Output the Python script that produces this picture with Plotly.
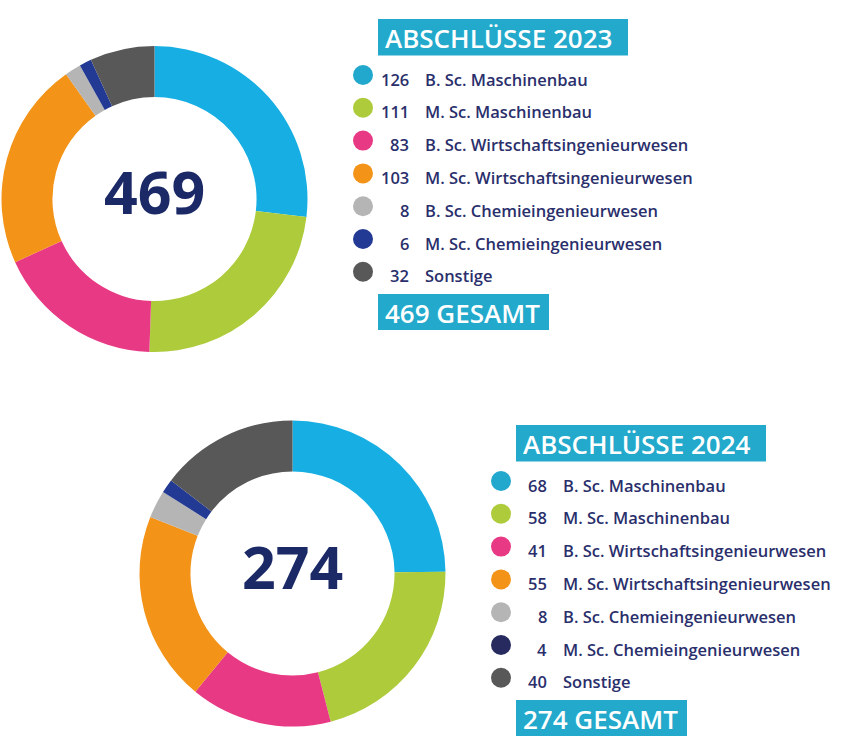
import plotly.graph_objects as go

# ---------------- data ----------------
categories = [
    "B. Sc. Maschinenbau",
    "M. Sc. Maschinenbau",
    "B. Sc. Wirtschaftsingenieurwesen",
    "M. Sc. Wirtschaftsingenieurwesen",
    "B. Sc. Chemieingenieurwesen",
    "M. Sc. Chemieingenieurwesen",
    "Sonstige",
]
values_2023 = [126, 111, 83, 103, 8, 6, 32]
values_2024 = [68, 58, 41, 55, 8, 4, 40]
years = ["2023", "2024"]

# ---------------- style ----------------
W, H = 854, 750
NAVY = "#1B2966"
TEXT = "#2A2F6C"
BOX = "#22A9CB"
ring_colors = ["#17AFE3", "#AECB3C", "#E83A84", "#F39317", "#B5B5B5", "#233A94", "#585858"]
legend_colors_2023 = ["#22A8CC", "#AECB3C", "#E83A84", "#F39317", "#B5B5B5", "#233A94", "#585858"]
legend_colors_2024 = ["#22A8CC", "#AECB3C", "#E83A84", "#F39317", "#B5B5B5", "#262A5E", "#585858"]
FONT = "Open Sans"

blocks = [
    dict(values=values_2023, year=years[0], cx=154.5, cy=199, r=153, dx=0, dy=0,
         lcolors=legend_colors_2023),
    dict(values=values_2024, year=years[1], cx=292.5, cy=573.5, r=153, dx=138, dy=406,
         lcolors=legend_colors_2024),
]

fig = go.Figure()
annotations = []
shapes = []

for b in blocks:
    total = sum(b["values"])
    x0 = max(0.0, (b["cx"] - b["r"]) / W)
    x1 = (b["cx"] + b["r"]) / W
    y0 = 1 - (b["cy"] + b["r"]) / H
    y1 = 1 - (b["cy"] - b["r"]) / H
    fig.add_trace(go.Pie(
        labels=categories, values=b["values"], hole=0.667, sort=False,
        direction="clockwise", rotation=0,
        marker=dict(colors=ring_colors, line=dict(width=0)),
        textinfo="none", hoverinfo="label+value", showlegend=False,
        domain=dict(x=[x0, x1], y=[y0, y1]),
    ))
    annotations.append(dict(
        x=b["cx"], y=b["cy"] - 8, xref="x", yref="y", text=f"<b>{total}</b>",
        showarrow=False, font=dict(family=FONT, size=59, color=NAVY),
        xanchor="center", yanchor="middle"))

    dx, dy = b["dx"], b["dy"]
    shapes.append(dict(type="rect", xref="x", yref="y", x0=378 + dx, x1=628 + dx,
                       y0=19 + dy, y1=55.5 + dy, fillcolor=BOX, line=dict(width=0), layer="below"))
    annotations.append(dict(
        x=383 + dx, y=38 + dy, xref="x", yref="y", text=f"ABSCHLÜSSE {b['year']}",
        showarrow=False, font=dict(family=FONT, size=26, color="white", weight=600),
        xanchor="left", yanchor="middle"))
    shapes.append(dict(type="rect", xref="x", yref="y", x0=378 + dx, x1=549 + dx,
                       y0=294 + dy, y1=330 + dy, fillcolor=BOX, line=dict(width=0), layer="below"))
    annotations.append(dict(
        x=383 + dx, y=313 + dy, xref="x", yref="y", text=f"{total} GESAMT",
        showarrow=False, font=dict(family=FONT, size=26, color="white", weight=600),
        xanchor="left", yanchor="middle"))

    row_y = [75 + dy + i * 32.8 for i in range(len(categories))]
    fig.add_trace(go.Scatter(
        x=[363 + dx] * len(categories), y=row_y, mode="markers",
        marker=dict(size=20, color=b["lcolors"], line=dict(width=0)),
        hoverinfo="skip", showlegend=False, xaxis="x", yaxis="y"))
    for i, (cat, v) in enumerate(zip(categories, b["values"])):
        annotations.append(dict(
            x=411 + dx, y=row_y[i] + 4, xref="x", yref="y", text=str(v),
            showarrow=False, font=dict(family=FONT, size=16.5, color=TEXT, weight=600),
            xanchor="right", yanchor="middle"))
        annotations.append(dict(
            x=423 + dx, y=row_y[i] + 4, xref="x", yref="y", text=cat,
            showarrow=False, font=dict(family=FONT, size=16.5, color=TEXT, weight=600),
            xanchor="left", yanchor="middle"))

fig.update_layout(
    width=W, height=H, margin=dict(l=0, r=0, t=0, b=0),
    paper_bgcolor="white", plot_bgcolor="rgba(0,0,0,0)",
    xaxis=dict(range=[0, W], visible=False, fixedrange=True, domain=[0, 1]),
    yaxis=dict(range=[H, 0], visible=False, fixedrange=True, domain=[0, 1]),
    annotations=annotations, shapes=shapes,
)

fig.write_html("out.html", config={"displayModeBar": False},
               post_script="document.body.style.margin='0';")
